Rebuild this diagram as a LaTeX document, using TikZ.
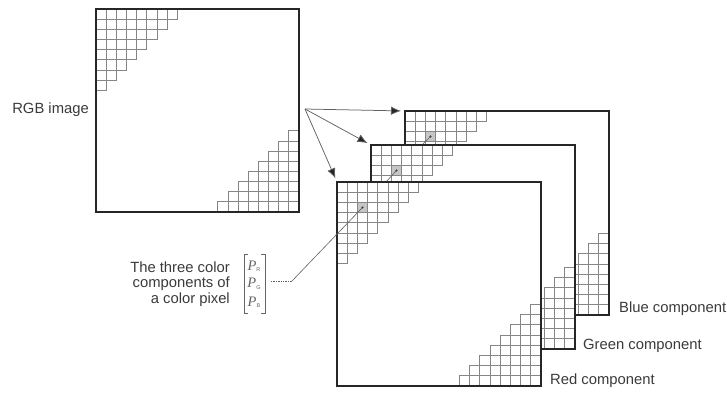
\documentclass[tikz,border=0pt]{standalone}
\usepackage{fontspec}
\setmainfont{Liberation Sans}
\newfontfamily\pfont{Liberation Serif}
\usetikzlibrary{arrows.meta}

\definecolor{inkframe}{HTML}{262626}
\definecolor{inkgrid}{HTML}{868686}
\definecolor{inktext}{HTML}{3A3A3A}
\definecolor{inkshade}{HTML}{C6C6C6}
\definecolor{inkline}{HTML}{606060}
\definecolor{inkmath}{HTML}{666666}

\tikzset{
  frame/.style={draw=inkframe, line width=2pt},
  gridline/.style={draw=inkgrid, line width=0.75pt},
  lbltext/.style={inner sep=0pt, text=inktext, font=\fontsize{14.8}{16}\selectfont},
  pent/.style={inner sep=0pt, text=inkmath, font=\pfont\itshape\fontsize{14.5}{14.5}\selectfont},
  bracketline/.style={draw=inkmath, line width=0.8pt},
  fanarrow/.style={draw=inkline, line width=0.75pt, shorten >=4pt,
    -{Latex[length=10pt,width=8.5pt,fill=inkframe]}},
  pixellink/.style={draw=inkline, line width=0.6pt},
  dotlink/.style={draw=inkline, line width=0.7pt, densely dotted},
  pixeldot/.style={fill=inkframe},
}

% A 20x20 pixel plane: white sheet, two staircases of cells, heavy frame.
% #1,#2 = top-left corner, #3 = cell size, #4 = extra drawing under the grid
\newcommand\pixelplane[4]{%
  \begin{scope}[shift={(#1,#2)}]
    \fill[white] (0,0) rectangle (20*#3,20*#3);
    #4
    \foreach \r [evaluate=\r as \m using int(7-\r)] in {0,...,7}{
      \foreach \c in {0,...,\m}{
        \draw[gridline] (\c*#3,\r*#3) rectangle ++(#3,#3);
        \draw[gridline] ({(19-\c)*#3},{(19-\r)*#3}) rectangle ++(#3,#3);
      }}
    \draw[frame] (0,0) rectangle (20*#3,20*#3);
  \end{scope}}

\newcommand\shadecell[1]{\fill[inkshade] (2*#1,2*#1) rectangle ++(#1,#1);}

\begin{document}
\begin{tikzpicture}[x=1pt,y=-1pt]
  \useasboundingbox (0,0) rectangle (727,394);

  % corners of the planes and the marked pixel in each component
  \coordinate (blueTL)  at (405,111);
  \coordinate (greenTL) at (371,145);
  \coordinate (redTL)   at (337,182);
  \coordinate (bdot) at (430.5,136.5);
  \coordinate (gdot) at (396.5,170.5);
  \coordinate (rdot) at (362.5,207.5);
  \coordinate (fork) at (305,109);
  \coordinate (bend) at (292,281);
  \coordinate (tail) at (270,281);

  % the RGB image
  \pixelplane{96}{9}{10.15}{}

  % the three component planes, back to front
  \pixelplane{405}{111}{10.2}{\shadecell{10.2}}
  \fill[pixeldot] (bdot) circle (1.2pt);
  \draw[pixellink] (bdot) -- (gdot);

  \pixelplane{371}{145}{10.2}{\shadecell{10.2}}
  \fill[pixeldot] (gdot) circle (1.2pt);
  \draw[pixellink] (gdot) -- (rdot);

  \pixelplane{337}{182}{10.2}{\shadecell{10.2}}
  \fill[pixeldot] (rdot) circle (1.2pt);
  \draw[pixellink] (rdot) -- (bend);
  \draw[dotlink] (bend) -- (tail);

  % splitting into components
  \draw[fanarrow] (fork) -- (blueTL);
  \draw[fanarrow] (fork) -- (greenTL);
  \draw[fanarrow] (fork) -- (redTL);

  % labels
  \node[lbltext, anchor=base east] (rgblbl) at (89,113) {RGB image};
  \node[lbltext, anchor=base west] (bluelbl) at (619,312) {Blue component};
  \node[lbltext, anchor=base west] (greenlbl) at (583,349) {Green component};
  \node[lbltext, anchor=base west] (redlbl) at (550,384) {Red component};

  \node[lbltext, anchor=base east] (txtA) at (230,272) {The three color};
  \node[lbltext, anchor=base east] (txtB) at (230,287.5) {components of};
  \node[lbltext, anchor=base east] (txtC) at (230,303) {a color pixel};

  % column vector of the three component values
  \node[pent] (pR) at (254,266) {P\raisebox{-1.5pt}{\normalfont\fontsize{5.5}{6}\selectfont R}};
  \node[pent] (pG) at (254,284) {P\raisebox{-1.5pt}{\normalfont\fontsize{5.5}{6}\selectfont G}};
  \node[pent] (pB) at (254,302) {P\raisebox{-1.5pt}{\normalfont\fontsize{5.5}{6}\selectfont B}};
  \draw[bracketline] (248,254) -- (244,254) -- (244,313) -- (248,313);
  \draw[bracketline] (261,254) -- (265,254) -- (265,313) -- (261,313);
\end{tikzpicture}
\end{document}
